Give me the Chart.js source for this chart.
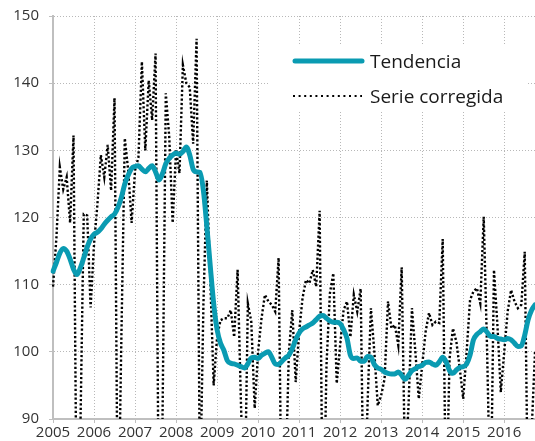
<!DOCTYPE html>
<html>
<head>
<meta charset="utf-8">
<script src="https://cdn.jsdelivr.net/npm/chart.js@4/dist/chart.umd.min.js"></script>
<style>
  html, body { margin: 0; padding: 0; background: #fff; }
  canvas { display: block; }
</style>
</head>
<body>
<canvas id="chart" width="535" height="441"></canvas>
<script>
const years = [2005, 2006, 2007, 2008, 2009, 2010, 2011, 2012, 2013, 2014, 2015, 2016];
const months = ['01', '02', '03', '04', '05', '06', '07', '08', '09', '10', '11', '12'];
const monthLabels = years.flatMap(y => months.map(m => y + '-' + m)).slice(0, 142);

// Tendencia (monthly, ene-2005 .. oct-2016)
const tendencia = [
  112.0, 113.3, 114.7, 115.4, 115.0, 113.8, 112.3, 111.5, 112.5, 114.0, 115.6, 116.8,
  117.5, 117.8, 118.3, 119.0, 119.6, 120.1, 120.5, 121.5, 123.0, 125.0, 126.3, 127.3,
  127.6, 127.7, 127.2, 126.8, 127.3, 127.7, 126.8, 125.6, 126.5, 128.0, 128.8, 129.3,
  129.6, 129.4, 129.8, 130.5, 129.3, 127.2, 126.8, 126.7, 124.0, 118.7, 112.8, 107.2,
  103.3, 101.3, 100.2, 98.7, 98.3, 98.2, 98.0, 97.8, 97.6, 98.2, 99.1, 99.2,
  99.0, 99.5, 99.8, 100.0, 99.2, 98.2, 98.1, 98.6, 99.1, 99.5, 100.5, 101.8,
  102.8, 103.4, 103.7, 104.0, 104.3, 104.8, 105.3, 105.4, 105.0, 104.6, 104.4, 104.4,
  104.2, 103.3, 102.0, 99.5, 99.0, 99.1, 98.6, 98.6, 99.3, 99.2, 98.1, 97.6,
  97.4, 97.0, 96.8, 96.7, 96.7, 97.0, 96.5, 95.9, 96.5, 97.2, 97.5, 97.8,
  98.0, 98.4, 98.5, 98.2, 98.0, 98.5, 99.2, 98.5, 97.2, 96.8, 97.3, 97.7,
  97.8, 98.2, 99.5, 101.8, 102.6, 103.0, 103.4, 102.9, 102.3, 102.3, 102.0, 101.9,
  101.8, 102.0, 101.8, 101.3, 100.8, 100.9, 102.5, 104.8, 106.2, 107.0
];

// Serie corregida (monthly, same months)
const serieCorregida = [
  109.7, 117.0, 127.5, 124.2, 126.0, 119.2, 132.2, 70.0, 88.0, 120.5, 120.3, 106.6,
  116.0, 122.0, 129.3, 126.0, 130.8, 124.0, 137.8, 70.0, 102.0, 131.8, 127.0, 119.2,
  127.0, 129.0, 143.2, 130.0, 140.4, 134.5, 144.4, 70.0, 88.0, 138.5, 132.0, 119.2,
  130.0, 126.6, 142.7, 140.0, 139.4, 131.0, 146.6, 78.0, 107.0, 125.5, 111.0, 95.0,
  102.2, 104.7, 105.0, 105.0, 106.2, 102.2, 112.2, 92.0, 75.0, 107.2, 104.5, 91.6,
  100.0, 105.0, 108.5, 107.5, 107.0, 106.0, 114.0, 70.0, 80.0, 100.0, 106.2, 95.5,
  103.0, 108.0, 110.7, 110.2, 112.2, 109.7, 121.0, 70.0, 98.0, 108.7, 111.7, 95.3,
  101.0, 106.2, 107.5, 102.2, 108.5, 106.0, 109.4, 72.0, 92.0, 106.5, 100.0, 92.0,
  93.5, 96.0, 107.5, 103.5, 104.0, 101.0, 112.6, 82.0, 92.0, 106.5, 100.0, 93.0,
  98.0, 103.0, 105.8, 104.0, 104.5, 104.3, 116.8, 75.0, 99.0, 103.5, 101.5, 97.5,
  93.0, 100.0, 107.7, 109.0, 109.5, 107.2, 120.1, 100.0, 75.0, 112.2, 104.0, 94.0,
  100.0, 106.0, 109.2, 107.5, 106.5, 107.0, 114.9, 75.0, 88.0, 100.0
];

const yTicks = [90, 100, 110, 120, 130, 140, 150];

const isYearStart = (i) => monthLabels[i] !== undefined && monthLabels[i].endsWith('-01');
const tickFont = { family: '"Open Sans", "Noto Sans", sans-serif', size: 15 };

// legend drawn inside the plot, on a white box like the original
const boxLegend = {
  id: 'boxLegend',
  beforeDatasetsDraw(chart) {
    const ctx = chart.ctx;
    ctx.save();
    ctx.fillStyle = '#ffffff';
    ctx.fillRect(268, 44, 260, 68);
    ctx.restore();
  },
  afterDatasetsDraw(chart) {
    const ctx = chart.ctx;
    ctx.save();
    chart.data.datasets.forEach(function(ds, i){
      let y = 61 + i * 35;
      ctx.beginPath();
      ctx.strokeStyle = ds.borderColor;
      ctx.lineWidth = i === 0 ? ds.borderWidth : 2;
      ctx.lineCap = i === 0 ? 'round' : 'butt';
      ctx.setLineDash(i === 0 ? [] : [2, 3.6]);
      ctx.moveTo(i === 0 ? 295 : 293, y);
      ctx.lineTo(362, y);
      ctx.stroke();
      ctx.setLineDash([]);
      ctx.fillStyle = '#1a1a1a';
      ctx.font = '19px "Open Sans", "Noto Sans", sans-serif';
      ctx.textBaseline = 'alphabetic';
      ctx.fillText(ds.label, 370, y + 7);
    });
    ctx.restore();
  }
};

new Chart(document.getElementById('chart'), {
  type: 'line',
  data: {
    labels: monthLabels,
    datasets: [
      {
        label: 'Tendencia',
        data: tendencia,
        borderColor: '#0A9BB2',
        borderWidth: 5,
        pointRadius: 0,
        fill: false,
        cubicInterpolationMode: 'monotone',
        borderCapStyle: 'round',
        borderJoinStyle: 'round'
      },
      {
        label: 'Serie corregida',
        data: serieCorregida,
        borderColor: '#000000',
        borderWidth: 2.4,
        borderDash: [2.2, 2.2],
        pointRadius: 0,
        fill: false,
        tension: 0
      }
    ]
  },
  options: {
    responsive: false,
    animation: false,
    events: [],
    layout: { padding: { top: 16, right: 0, bottom: 0, left: 0 } },
    plugins: {
      legend: { display: false },
      tooltip: { enabled: false }
    },
    scales: {
      x: {
        type: 'category',
        offset: false,
        grid: {
          color: (c) => isYearStart(c.index) ? '#B8B8B8' : 'rgba(0,0,0,0)',
          tickColor: (c) => isYearStart(c.index) ? '#BFBFBF' : 'rgba(0,0,0,0)',
          lineWidth: 1,
          tickLength: 4,
          offset: false
        },
        border: { color: '#BFBFBF', width: 2, dash: [1, 2] },
        ticks: {
          autoSkip: false,
          maxRotation: 0,
          minRotation: 0,
          padding: 1,
          color: '#333333',
          font: tickFont,
          callback: (v, i) => isYearStart(i) ? monthLabels[i].slice(0, 4) : ''
        },
        afterFit: (s) => { s.height = 22; s.paddingLeft = 0; s.paddingRight = 0; }
      },
      y: {
        min: 90,
        max: 150,
        afterBuildTicks: (s) => { s.ticks = yTicks.map(v => ({ value: v })); },
        grid: {
          color: '#B8B8B8',
          lineWidth: 1,
          tickLength: 4,
          tickColor: '#BFBFBF'
        },
        border: { color: '#BFBFBF', width: 2, dash: [1, 2] },
        ticks: {
          padding: 10,
          color: '#333333',
          font: tickFont
        },
        afterFit: (s) => { s.width = 53; s.paddingTop = 0; s.paddingBottom = 0; }
      }
    }
  },
  plugins: [boxLegend]
});
</script>
</body>
</html>
